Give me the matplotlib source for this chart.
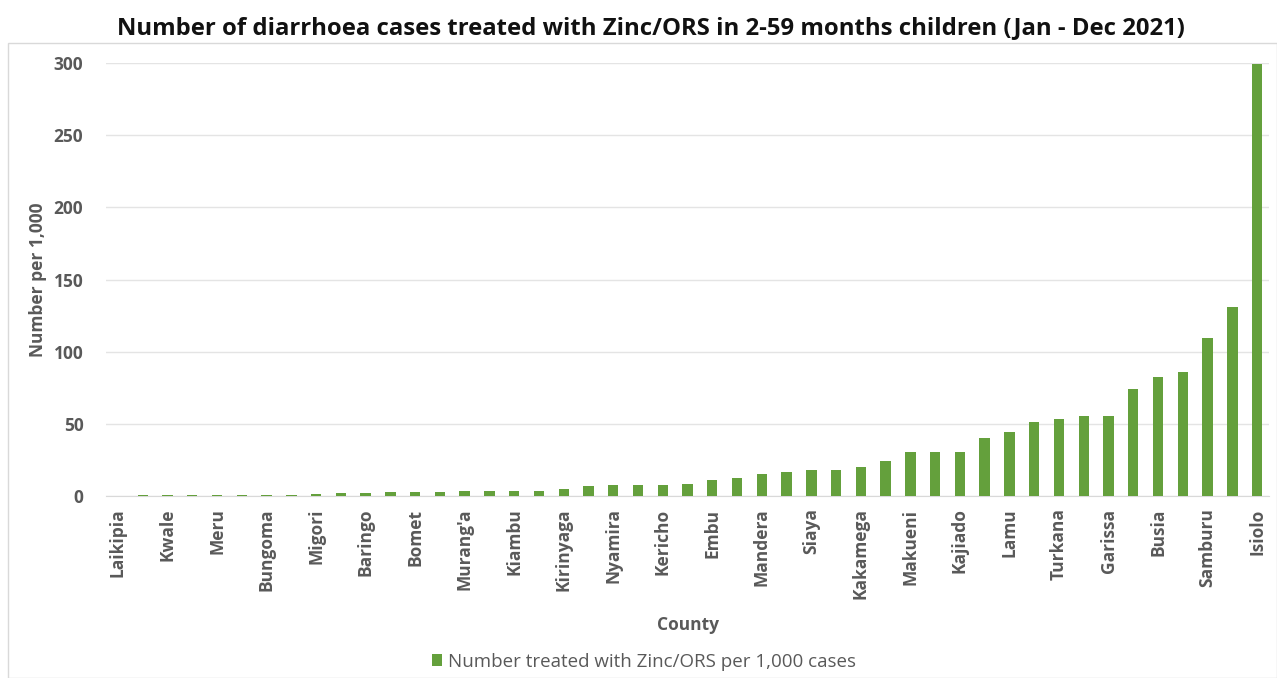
import matplotlib
matplotlib.use("Agg")
import matplotlib.pyplot as plt
from matplotlib.patches import Rectangle

# counties sorted by rate; only every other one gets a tick label
counties = ["Laikipia", "", "Kwale", "", "Meru", "", "Bungoma", "", "Migori", "",
            "Baringo", "", "Bomet", "", "Murang'a", "", "Kiambu", "", "Kirinyaga", "",
            "Nyamira", "", "Kericho", "", "Embu", "", "Mandera", "", "Siaya", "",
            "Kakamega", "", "Makueni", "", "Kajiado", "", "Lamu", "", "Turkana", "",
            "Garissa", "", "Busia", "", "Samburu", "", "Isiolo"]
rate = [0, 0.5, 0.5, 0.5, 0.6, 0.8, 0.8, 1.0, 1.5, 2.0,
        2.2, 2.5, 3.0, 3.0, 3.2, 3.4, 3.5, 3.5, 4.6, 7.0,
        7.4, 7.4, 7.4, 8.5, 11.0, 12.3, 15.5, 16.5, 18.0, 18.0,
        20.0, 24.0, 30.5, 30.5, 30.5, 40.0, 44.5, 51.0, 53.5, 55.5,
        55.5, 74.0, 82.5, 86.0, 109.5, 131.0, 299.5]
yticks = [0, 50, 100, 150, 200, 250, 300]

green = "#64a03c"
grey_txt = "#595959"

plt.rcParams["font.family"] = ["Open Sans", "DejaVu Sans"]

fig = plt.figure(figsize=(12.77, 6.78), dpi=100)
ax = fig.add_axes([0.0827, 0.2684, 0.9114, 0.6386])

x = list(range(len(rate)))
ax.bar(x, rate, width=0.42, color=green, zorder=3,
       label="Number treated with Zinc/ORS per 1,000 cases")

ax.set_xlim(-0.5, len(rate) - 0.5)
ax.set_ylim(0, 300)
ax.set_yticks(yticks)
ax.set_yticklabels([str(v) for v in yticks], fontsize=12.5, fontweight="bold",
                   color=grey_txt)
ax.set_xticks(x)
ax.set_xticklabels(counties, rotation=90, fontsize=12.5, fontweight="bold",
                   color=grey_txt)
ax.tick_params(axis="both", length=0)
ax.tick_params(axis="y", pad=16)
ax.tick_params(axis="x", pad=9)

ax.grid(axis="y", color="#e4e4e4", linewidth=1, zorder=0)
for s in ["top", "right", "left"]:
    ax.spines[s].set_visible(False)
ax.spines["bottom"].set_color("#d9d9d9")

ax.set_xlabel("County", fontsize=12.5, fontweight="bold", color=grey_txt)
ax.xaxis.set_label_coords(0.5, -0.278)
ax.set_ylabel("Number per 1,000", fontsize=12.5, fontweight="bold", color=grey_txt)
ax.yaxis.set_label_coords(-0.05, 0.5)

leg = fig.legend(loc="center", bbox_to_anchor=(0.504, 0.024), frameon=False,
                 fontsize=13.5, handlelength=0.55, handleheight=0.55,
                 handletextpad=0.3)
for t in leg.get_texts():
    t.set_color(grey_txt)

# outer chart frame
fig.patches.append(Rectangle((8 / 1277, 0), 1 - 8 / 1277, 1 - 43 / 678,
                             transform=fig.transFigure, fill=False,
                             edgecolor="#d9d9d9", linewidth=1))

fig.text(0.51, 0.958,
         "Number of diarrhoea cases treated with Zinc/ORS in 2-59 months children (Jan - Dec 2021)",
         ha="center", va="center", fontsize=17.2, fontweight="bold", color="#111111")

fig.savefig("out.png", dpi=100, facecolor="white")
